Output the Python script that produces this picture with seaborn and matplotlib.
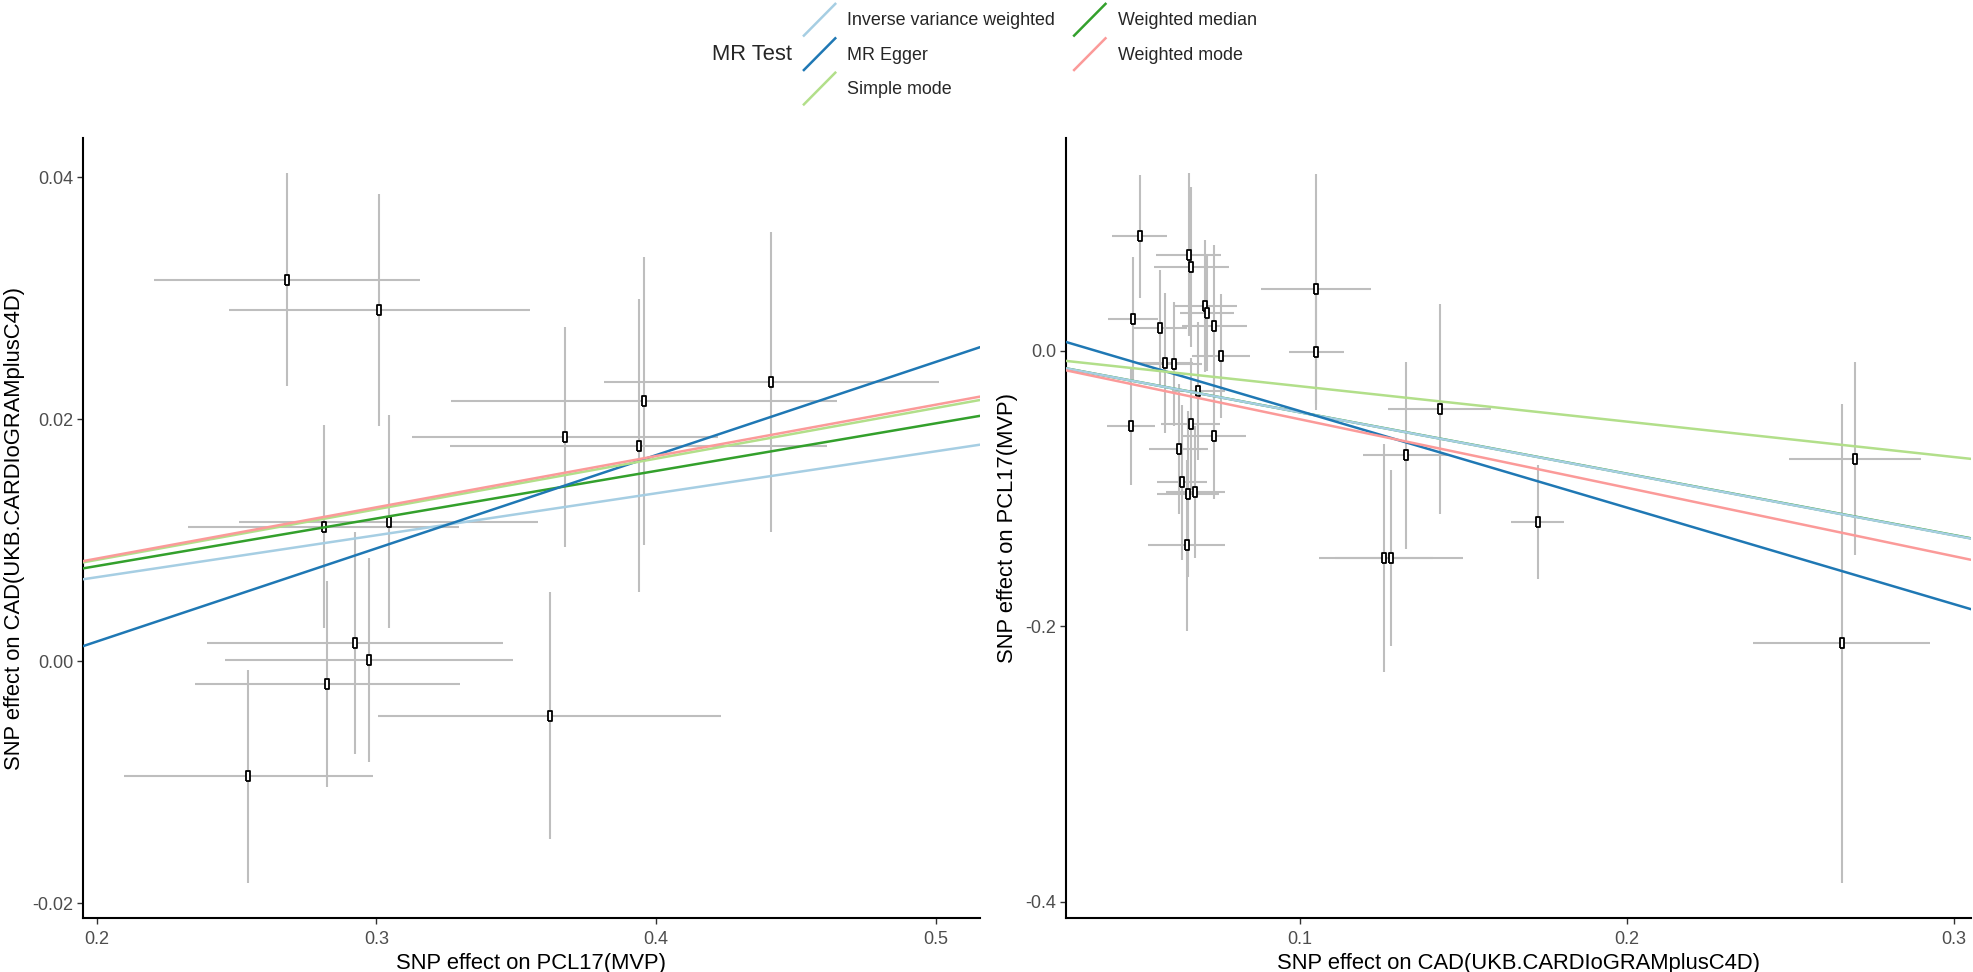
import numpy as np
import pandas as pd
import seaborn as sns
import matplotlib.pyplot as plt
from matplotlib.lines import Line2D
from matplotlib.legend_handler import HandlerBase

# Left panel: exposure PCL17(MVP) -> outcome CAD
left_bx = [0.2679, 0.3010, 0.3674, 0.3938, 0.3956, 0.4413, 0.2811, 0.3043, 0.2923, 0.2824, 0.2972, 0.3619, 0.2541]
left_bx_se = [0.0475, 0.0539, 0.0547, 0.0674, 0.0690, 0.0600, 0.0484, 0.0535, 0.0530, 0.0473, 0.0515, 0.0614, 0.0445]
left_by = [0.0315, 0.0290, 0.0185, 0.0178, 0.0215, 0.0231, 0.0111, 0.0115, 0.0015, -0.0019, 0.0001, -0.0045, -0.0095]
left_by_se = [0.0088, 0.0096, 0.0091, 0.0121, 0.0119, 0.0124, 0.0084, 0.0088, 0.0092, 0.0085, 0.0084, 0.0102, 0.0088]

# Right panel: exposure CAD -> outcome PCL17(MVP)
right_bx = [0.0510, 0.0660, 0.0668, 0.0709, 0.0717, 0.0739, 0.0490, 0.0574, 0.0760, 0.0588,
            0.0616, 0.0484, 0.0690, 0.0666, 0.0737, 0.0630, 0.0639, 0.0659, 0.0680, 0.0654,
            0.1049, 0.1050, 0.1428, 0.1324, 0.1727, 0.1257, 0.1280, 0.2697, 0.2656]
right_bx_se = [0.0084, 0.0099, 0.0115, 0.0098, 0.0082, 0.0099, 0.0077, 0.0080, 0.0089, 0.0085,
               0.0085, 0.0073, 0.0080, 0.0091, 0.0099, 0.0090, 0.0076, 0.0095, 0.0090, 0.0117,
               0.0168, 0.0084, 0.0157, 0.0130, 0.0080, 0.0150, 0.0220, 0.0203, 0.0270]
right_by = [0.0832, 0.0697, 0.0608, 0.0324, 0.0275, 0.0179, 0.0232, 0.0167, -0.0040, -0.0087,
            -0.0099, -0.0545, -0.0292, -0.0529, -0.0617, -0.0714, -0.0955, -0.1039, -0.1027, -0.1413,
            0.0451, -0.0009, -0.0424, -0.0758, -0.1244, -0.1504, -0.1504, -0.0784, -0.2124]
right_by_se = [0.0446, 0.0590, 0.0580, 0.0480, 0.0420, 0.0590, 0.0446, 0.0420, 0.0450, 0.0510,
               0.0450, 0.0430, 0.0500, 0.0480, 0.0460, 0.0470, 0.0560, 0.0600, 0.0480, 0.0620,
               0.0834, 0.0422, 0.0760, 0.0680, 0.0414, 0.0830, 0.0640, 0.0700, 0.1735]

methods = ['Inverse variance weighted', 'MR Egger', 'Simple mode', 'Weighted median', 'Weighted mode']
method_colors = ['#a6cee3', '#1f78b4', '#b2df8a', '#33a02c', '#fb9a99']
# drawing order: weighted median sits under the IVW line on the right panel
method_zorder = [4.2, 4.3, 4.4, 4.1, 4.5]
left_slope = [0.03467, 0.0770, 0.04183, 0.03929, 0.04237]
left_intercept = [0.0, -0.01378, 0.0, 0.0, 0.0]
right_slope = [-0.4466, -0.701, -0.257, -0.4460, -0.497]
right_intercept = [0.0, 0.0264, 0.0, 0.0, 0.0]

left_xticks = [0.2, 0.3, 0.4, 0.5]
left_xlabels = ['0.2', '0.3', '0.4', '0.5']
left_yticks = [-0.02, 0.00, 0.02, 0.04]
left_ylabels = ['-0.02', '0.00', '0.02', '0.04']
right_xticks = [0.1, 0.2, 0.3]
right_xlabels = ['0.1', '0.2', '0.3']
right_yticks = [-0.4, -0.2, 0.0]
right_ylabels = ['-0.4', '-0.2', '0.0']

sns.set_theme(style='ticks')
plt.rcParams['font.family'] = ['Liberation Sans', 'DejaVu Sans']
plt.rcParams['axes.unicode_minus'] = False


class DiagonalHandler(HandlerBase):
    # ggplot style abline key: a diagonal line
    def create_artists(self, legend, orig_handle, xdescent, ydescent, width, height, fontsize, trans):
        line = Line2D([-xdescent, -xdescent + width], [-ydescent, -ydescent + height],
                      color=orig_handle.get_color(), lw=orig_handle.get_linewidth(),
                      solid_capstyle='butt', transform=trans)
        return [line]


def expand(lo, hi):
    r = hi - lo
    return lo - 0.05 * r, hi + 0.05 * r


def draw_panel(ax, bx, bx_se, by, by_se, slopes, intercepts, xticks, xlabels, yticks, ylabels, xlab, ylab):
    df = pd.DataFrame({'bx': bx, 'bx_se': bx_se, 'by': by, 'by_se': by_se})
    ax.errorbar(df['bx'], df['by'], xerr=df['bx_se'], yerr=df['by_se'], fmt='none',
                ecolor='#bebebe', elinewidth=1.5, capsize=0, zorder=2)
    tofu = [(-0.5, -1), (0.5, -1), (0.5, 1), (-0.5, 1), (-0.5, -1)]
    sns.scatterplot(data=df, x='bx', y='by', ax=ax, marker=tofu, s=42, color='white',
                    edgecolor='black', linewidth=1.3, zorder=3)
    for m, c, b, a, z in zip(methods, method_colors, slopes, intercepts, method_zorder):
        ax.axline((0, a), slope=b, color=c, lw=1.8, zorder=z, label=m)
    ax.set_xlim(*expand((df['bx'] - df['bx_se']).min(), (df['bx'] + df['bx_se']).max()))
    ax.set_ylim(*expand((df['by'] - df['by_se']).min(), (df['by'] + df['by_se']).max()))
    ax.set_xticks(xticks)
    ax.set_xticklabels(xlabels)
    ax.set_yticks(yticks)
    ax.set_yticklabels(ylabels)
    ax.tick_params(axis='both', length=4, width=1.0, color='#333333', labelcolor='#4d4d4d',
                   labelsize=13, pad=3)
    ax.tick_params(axis='x', pad=5)
    ax.set_xlabel(xlab, fontsize=15.8, color='black', labelpad=4)
    ax.set_ylabel(ylab, fontsize=15.8, color='black', labelpad=5)
    for side in ['left', 'bottom']:
        ax.spines[side].set_linewidth(1.5)
        ax.spines[side].set_color('black')
    sns.despine(ax=ax)


fig = plt.figure(figsize=(19.74, 9.72), dpi=100)
ax1 = fig.add_axes([83 / 1974, 1 - 918 / 972, 897 / 1974, 780 / 972])
ax2 = fig.add_axes([1066 / 1974, 1 - 918 / 972, 905 / 1974, 780 / 972])

draw_panel(ax1, left_bx, left_bx_se, left_by, left_by_se, left_slope, left_intercept,
           left_xticks, left_xlabels, left_yticks, left_ylabels,
           'SNP effect on PCL17(MVP)', 'SNP effect on CAD(UKB.CARDIoGRAMplusC4D)')
draw_panel(ax2, right_bx, right_bx_se, right_by, right_by_se, right_slope, right_intercept,
           right_xticks, right_xlabels, right_yticks, right_ylabels,
           'SNP effect on CAD(UKB.CARDIoGRAMplusC4D)', 'SNP effect on PCL17(MVP)')

handles = [Line2D([], [], color=c, lw=1.8) for c in method_colors]
fig.legend(handles, methods, loc='upper left', bbox_to_anchor=(803 / 1974, 1 - 3 / 972),
           ncol=2, frameon=False, fontsize=12.9, handlelength=1.85, handleheight=2.5,
           labelspacing=0.05, handletextpad=0.63, columnspacing=1.0, borderpad=0,
           borderaxespad=0, handler_map={Line2D: DiagonalHandler()})
fig.text(792 / 1974, 1 - 55 / 972, 'MR Test', ha='right', va='center', fontsize=15.8)

fig.savefig('out.png', dpi=100)
